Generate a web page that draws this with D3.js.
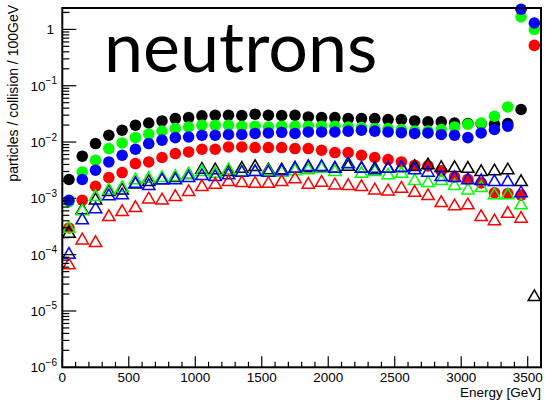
<!DOCTYPE html>
<html>
<head>
<meta charset="utf-8">
<script src="https://cdn.jsdelivr.net/npm/d3@7"></script>
<style>
  html, body { margin: 0; padding: 0; background: #fff; }
  svg { display: block; }
</style>
</head>
<body>
<svg id="chart" width="545" height="403"></svg>
<script>
// Bin centres (GeV), 100 GeV bins
const energies = [50,150,250,350,450,550,650,750,850,950,1050,1150,1250,1350,1450,1550,1650,1750,1850,1950,2050,2150,2250,2350,2450,2550,2650,2750,2850,2950,3050,3150,3250,3350,3450,3550];

const blackCircle = [0.00216,0.0056,0.0094,0.0132,0.0162,0.0199,0.0218,0.0237,0.0261,0.0272,0.0291,0.0299,0.0299,0.0296,0.0312,0.0299,0.0296,0.0299,0.0279,0.0272,0.0272,0.0261,0.0261,0.0261,0.0251,0.0251,0.0237,0.0228,0.0228,0.0218,0.0213,0.0213,0.0207,0.0213,0.0378,null];
const greenCircle = [0.000877,0.00294,0.00475,0.00767,0.00964,0.0120,0.0138,0.0157,0.0174,0.0185,0.0199,0.0199,0.0199,0.0191,0.0191,0.0185,0.0191,0.0191,0.0191,0.0191,0.0191,0.0185,0.0181,0.0174,0.0174,0.0167,0.0157,0.0157,0.0167,0.0185,0.0207,0.0218,0.0287,0.042,1.67,1.0];
const blueCircle = [0.000925,0.00216,0.00316,0.00443,0.00583,0.00745,0.0094,0.0108,0.0120,0.0123,0.0132,0.0132,0.0136,0.0136,0.0142,0.0145,0.0149,0.0142,0.0151,0.0151,0.0151,0.0156,0.0162,0.0156,0.0151,0.0147,0.0142,0.0145,0.0136,0.0132,0.0120,0.0145,0.0167,0.0191,2.28,1.30];
const redCircle = [0.000298,0.000925,0.00164,0.00234,0.00287,0.00415,0.00443,0.00531,0.00625,0.00667,0.00745,0.00745,0.00818,0.00818,0.00798,0.00798,0.00798,0.00767,0.00767,0.00715,0.00651,0.00651,0.00583,0.00531,0.00489,0.00443,0.00387,0.00377,0.00307,0.0024,0.00218,0.00188,0.00125,0.00122,0.00114,0.52];

const blackTriangle = [0.000253,0.000659,0.00099,0.00139,0.00149,0.0019,0.0021,0.00225,0.00247,0.0028,0.00347,0.00338,0.00316,0.00361,0.00387,0.00338,0.00338,0.00361,0.0037,0.0037,0.0036,0.0039,0.0036,0.0036,0.0036,0.0037,0.00387,0.00415,0.00372,0.00372,0.00361,0.00316,0.00325,0.00338,0.0021,0.000019];
const greenTriangle = [0.00031,0.000633,0.00114,0.00149,0.00164,0.00225,0.0024,0.00247,0.00257,0.00283,0.00316,0.00294,0.00338,0.00316,0.00316,0.00325,0.00307,0.00325,0.00338,0.00361,0.00316,0.00443,0.00294,0.00316,0.00276,0.00294,0.00218,0.00201,0.00218,0.00178,0.00149,0.00164,0.00122,0.00122,0.000809,null];
const blueTriangle = [0.000107,0.000438,0.000687,0.00117,0.00122,0.00195,0.00178,0.00225,0.00225,0.00247,0.00268,0.00257,0.00276,0.00307,0.00316,0.00307,0.00325,0.00361,0.00387,0.00387,0.00361,0.00433,0.00361,0.00338,0.00361,0.00377,0.00338,0.00307,0.00257,0.00247,0.00225,0.00218,0.0021,0.0021,0.00132,null];
const redTriangle = [0.0000695,0.000193,0.000173,0.000501,0.000615,0.000724,0.00103,0.00099,0.00114,0.00139,0.00171,0.00188,0.0021,0.00201,0.00195,0.00195,0.0021,0.00234,0.00188,0.00204,0.00183,0.00178,0.00171,0.00149,0.00143,0.0016,0.00135,0.00118,0.000888,0.000776,0.000809,0.000501,0.00042,0.000573,0.000468,null];

const xTickValues = [0,500,1000,1500,2000,2500,3000,3500];
const yTickExponents = [0,-1,-2,-3,-4,-5,-6];

const titleText = "neutrons";
const xAxisTitle = "Energy [GeV]";
const yAxisTitle = "particles / collision / 100GeV";

const circleSeries = [
  {values: blackCircle, color: "#000000"},
  {values: greenCircle, color: "#00ff00"},
  {values: blueCircle,  color: "#0000ff"},
  {values: redCircle,   color: "#ff0000"}
];
const triangleSeries = [
  {values: blackTriangle, color: "#000000"},
  {values: greenTriangle, color: "#00ff00"},
  {values: blueTriangle,  color: "#0000ff"},
  {values: redTriangle,   color: "#ff0000"}
];

const svg = d3.select("#chart");
const frame = {left: 62.3, right: 541, top: 8, bottom: 367.3};

const x = d3.scaleLinear().domain([0, 3600]).range([frame.left, frame.right]);
const y = d3.scaleLog().domain([1e-6, 2.4]).range([frame.bottom, frame.top]);

const font = "'Liberation Sans', Arial, Helvetica, sans-serif";

// Title text
svg.append("text")
  .attr("x", 104).attr("y", 71.5)
  .attr("font-family", "Lato, 'Open Sans', sans-serif")
  .attr("font-size", 70)
  .attr("fill", "#000")
  .text(titleText);

// Data markers
const circleG = svg.append("g");
circleSeries.forEach(s => {
  circleG.selectAll(null)
    .data(energies.map((e, i) => ({e, v: s.values[i]})).filter(d => d.v != null && d.v > 0))
    .enter().append("circle")
    .attr("cx", d => x(d.e))
    .attr("cy", d => y(d.v))
    .attr("r", 5.8)
    .attr("fill", s.color);
});

const tri = "M0,-5.6L6.2,5.1L-6.2,5.1Z";
const triG = svg.append("g");
triangleSeries.forEach(s => {
  triG.selectAll(null)
    .data(energies.map((e, i) => ({e, v: s.values[i]})).filter(d => d.v != null && d.v > 0))
    .enter().append("path")
    .attr("d", tri)
    .attr("transform", d => `translate(${x(d.e)},${y(d.v) + 0.2})`)
    .attr("fill", "none")
    .attr("stroke", s.color)
    .attr("stroke-width", 1.5);
});

// X axis ticks (inside frame, pointing up)
const xAxisG = svg.append("g");
const xMinor = d3.range(0, 3600 + 1, 100);
xAxisG.selectAll(null).data(xMinor).enter().append("line")
  .attr("x1", d => x(d)).attr("x2", d => x(d))
  .attr("y1", frame.bottom)
  .attr("y2", d => frame.bottom - (d % 500 === 0 ? 11 : 5.5))
  .attr("stroke", "#000").attr("stroke-width", 1.2);
xAxisG.selectAll(null).data(xTickValues).enter().append("text")
  .attr("x", d => x(d)).attr("y", 382)
  .attr("text-anchor", "middle")
  .attr("font-family", font).attr("font-size", 13.5)
  .text(d => d);

// Y axis ticks (log), inside frame pointing right
const yAxisG = svg.append("g");
const yMinor = [];
for (let p = -6; p <= 0; p++) {
  for (let m = 1; m <= 9; m++) {
    const v = m * Math.pow(10, p);
    if (v <= 2.4) yMinor.push({v, major: m === 1});
  }
}
yMinor.push({v: 2, major: false});
yAxisG.selectAll(null).data(yMinor).enter().append("line")
  .attr("x1", frame.left)
  .attr("x2", d => frame.left + (d.major ? 14 : 7))
  .attr("y1", d => y(d.v)).attr("y2", d => y(d.v))
  .attr("stroke", "#000").attr("stroke-width", 1.2);

const yLab = yAxisG.selectAll(null).data(yTickExponents).enter().append("text")
  .attr("x", d => d === 0 ? 54 : 57)
  .attr("y", d => y(Math.pow(10, d)) + 5)
  .attr("text-anchor", "end")
  .attr("font-family", font).attr("font-size", 13.5);
yLab.each(function(d) {
  const t = d3.select(this);
  if (d === 0) { t.text("1"); return; }
  t.append("tspan").text("10");
  t.append("tspan").attr("dy", -6.5).attr("font-size", 10).text("\u2212" + Math.abs(d));
});

// Frame
svg.append("rect")
  .attr("x", frame.left).attr("y", frame.top)
  .attr("width", frame.right - frame.left).attr("height", frame.bottom - frame.top)
  .attr("fill", "none").attr("stroke", "#000").attr("stroke-width", 2);

// Axis titles
svg.append("text")
  .attr("x", 541).attr("y", 397)
  .attr("text-anchor", "end")
  .attr("font-family", font).attr("font-size", 13.5)
  .text(xAxisTitle);

svg.append("text")
  .attr("transform", "translate(17.5,5) rotate(-90)")
  .attr("text-anchor", "end")
  .attr("font-family", font).attr("font-size", 14)
  .text(yAxisTitle);
</script>
</body>
</html>
